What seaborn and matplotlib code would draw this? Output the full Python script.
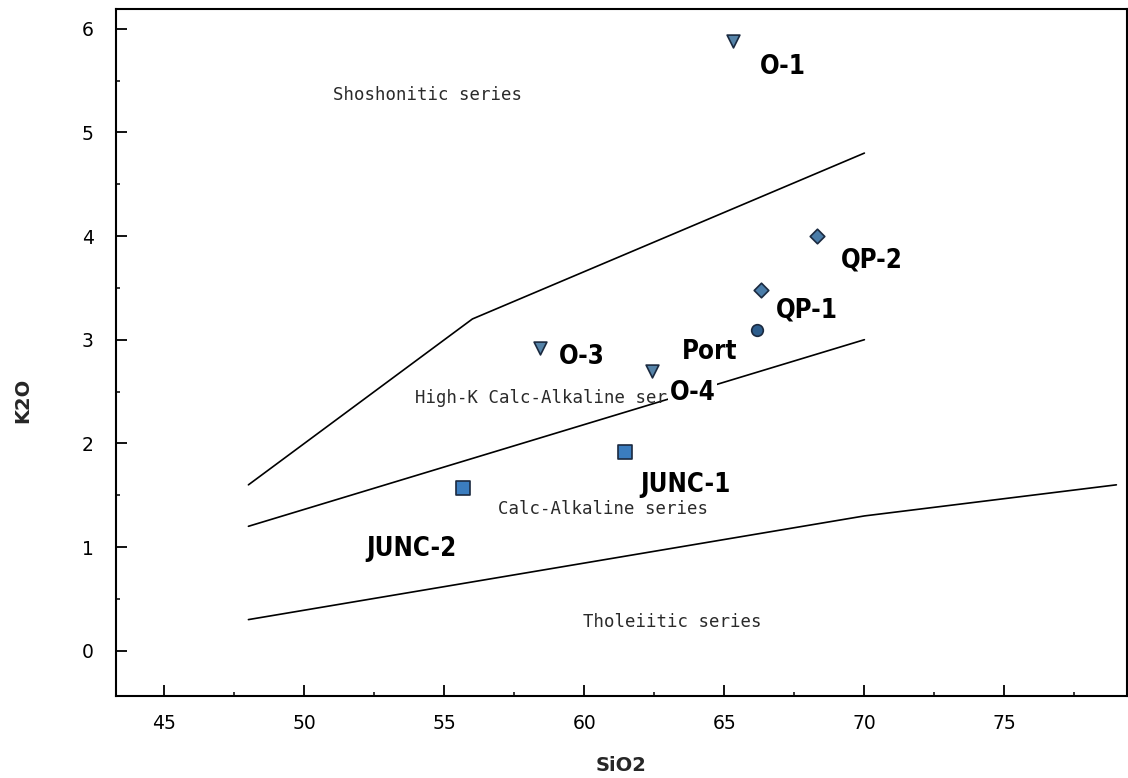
import matplotlib
matplotlib.use("Agg")
import matplotlib.pyplot as plt
import seaborn as sns
import pandas as pd
from matplotlib.ticker import MultipleLocator

# Sample analyses (wt %)
samples = ["O-1", "QP-2", "QP-1", "Port", "O-3", "O-4", "JUNC-1", "JUNC-2"]
sio2 = [65.3, 68.3, 66.3, 66.15, 58.4, 62.4, 61.45, 55.65]
k2o = [5.88, 4.00, 3.48, 3.09, 2.92, 2.70, 1.915, 1.57]
rock_type = ["O", "QP", "QP", "Port", "O", "O", "JUNC", "JUNC"]

# Series boundaries (Peccerillo & Taylor)
shoshonitic_x = [48, 56, 70]
shoshonitic_y = [1.6, 3.2, 4.8]
highk_x = [48, 70]
highk_y = [1.2, 3.0]
tholeiitic_x = [48, 70, 79]
tholeiitic_y = [0.3, 1.3, 1.6]

series_names = ["Shoshonitic series", "High-K Calc-Alkaline series",
                "Calc-Alkaline series", "Tholeiitic series"]

df = pd.DataFrame({"sample": samples, "SiO2": sio2, "K2O": k2o, "type": rock_type})

sns.set_style("ticks")
plt.rcParams["font.family"] = ["DejaVu Sans"]

fig = plt.figure(figsize=(11.28, 7.78), dpi=100)
ax = fig.add_axes([116 / 1128, 82 / 778, 1011 / 1128, 687 / 778])

# boundary lines
for bx, by in [(shoshonitic_x, shoshonitic_y), (highk_x, highk_y),
               (tholeiitic_x, tholeiitic_y)]:
    sns.lineplot(x=bx, y=by, ax=ax, color="black", lw=1.2, sort=False,
                 zorder=2, legend=False)

# markers per rock type
styles = {
    "O": dict(marker="v", s=85, color="#5583a8"),
    "QP": dict(marker="D", s=55, color="#4a7ca8"),
    "Port": dict(marker="o", s=70, color="#2d5d8c"),
    "JUNC": dict(marker="s", s=115, color="#3b7dbf"),
}
for t, st in styles.items():
    sub = df[df["type"] == t]
    sns.scatterplot(data=sub, x="SiO2", y="K2O", ax=ax, marker=st["marker"],
                    s=st["s"], color=st["color"], edgecolor="#1b2a40",
                    linewidth=1.2, zorder=4, legend=False)

# series names
region_font = dict(fontsize=12.5, family=["DejaVu Sans Mono"], color="#2a2a2a",
                   zorder=3, va="center", ha="left")
ax.text(51.02, 5.36, series_names[0], **region_font)
ax.text(53.95, 2.44, series_names[1], **region_font)
ax.text(56.91, 1.37, series_names[2], **region_font)
ax.text(59.94, 0.277, series_names[3], **region_font)

# sample labels (offsets in pixels)
offsets = {
    "O-1": (27, -26, "left"),
    "QP-2": (24, -24, "left"),
    "QP-1": (15, -21, "left"),
    "Port": (-19, -22, "right"),
    "O-3": (19, -9, "left"),
    "O-4": (18, -22, "left"),
    "JUNC-1": (15, -33, "left"),
    "JUNC-2": (-6, -61, "right"),
}
for name, x, y in zip(samples, sio2, k2o):
    dx, dy, ha = offsets[name]
    ax.annotate(name, (x, y), xytext=(dx, dy), textcoords="offset pixels",
                ha=ha, va="center", fontsize=18.5, fontweight="bold",
                fontstretch="condensed", family=["DejaVu Sans"],
                color="black", zorder=6,
                bbox=dict(boxstyle="square,pad=0.05", fc="white", ec="none"))

ax.set_xlim(43.27, 79.38)
ax.set_ylim(-0.437, 6.19)
ax.xaxis.set_major_locator(MultipleLocator(5))
ax.xaxis.set_minor_locator(MultipleLocator(2.5))
ax.yaxis.set_major_locator(MultipleLocator(1))
ax.yaxis.set_minor_locator(MultipleLocator(0.5))
ax.tick_params(which="major", direction="in", length=8, width=1.3,
               labelsize=13.5, pad=13, colors="black")
ax.tick_params(which="minor", direction="in", length=3, width=1.3)
ax.tick_params(axis="y", which="major", pad=16)

for sp in ax.spines.values():
    sp.set_color("black")
    sp.set_linewidth(1.5)

ax.set_xlabel("SiO2", fontsize=14, fontweight="bold")
ax.set_ylabel("K2O", fontsize=14, fontweight="bold")
ax.xaxis.set_label_coords(0.5, -0.088)
ax.yaxis.set_label_coords(-0.083, 0.431)

fig.savefig("out.png", dpi=100, facecolor="white")
